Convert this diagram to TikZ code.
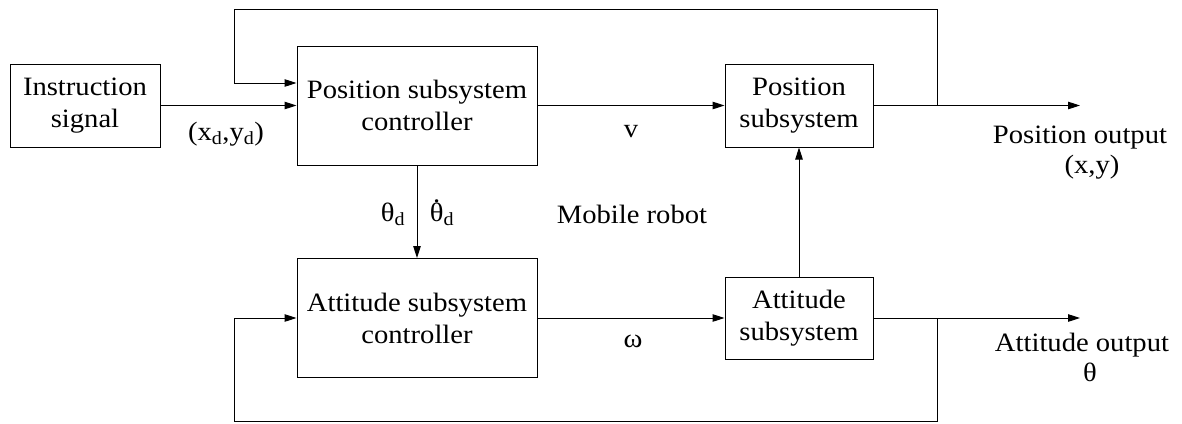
\documentclass[tikz,border=0pt]{standalone}
\usepackage{fontspec}
\setmainfont{Liberation Serif}[FakeStretch=1.08]
\usetikzlibrary{arrows.meta}

% theta with a dot above (time derivative)
\newcommand\thetadot{\ooalign{θ\cr\hidewidth\raisebox{0.7em}{.}\hidewidth\cr}}

\tikzset{
  txt/.style={font=\fontsize{26.5}{32}\selectfont, align=center, inner sep=0pt},
  block/.style={txt, draw, line width=1pt},
  lbl/.style={txt},
  arr/.style={line width=1pt, -{Triangle[length=12pt,width=7.5pt]}},
  wire/.style={line width=1pt},
}

\begin{document}
\begin{tikzpicture}[x=1pt,y=-1pt]
  \useasboundingbox (0,0) rectangle (1182,423);

  % blocks
  \node[block, minimum width=150pt, minimum height=83pt]  (ins) at (85,105.5)  {Instruction\\signal};
  \node[block, minimum width=240pt, minimum height=119pt] (psc) at (417,105.5) {Position subsystem\\controller};
  \node[block, minimum width=148pt, minimum height=83pt]  (ps)  at (799,105.5) {Position\\subsystem};
  \node[block, minimum width=240pt, minimum height=119pt] (acs) at (417,318)   {Attitude subsystem\\controller};
  \node[block, minimum width=148pt, minimum height=82pt]  (as)  at (799,318)   {Attitude\\subsystem};

  % branch points, outputs and feedback corners
  \coordinate (tapP) at (937,105.5);
  \coordinate (outP) at (1080,105.5);
  \coordinate (fbTR) at (937,9);
  \coordinate (fbTL) at (234,9);
  \coordinate (fbPin) at (234,83);
  \coordinate (tapA) at (937,318);
  \coordinate (outA) at (1080,318);
  \coordinate (fbBR) at (937,421);
  \coordinate (fbBL) at (234,421);
  \coordinate (fbAin) at (234,318);

  % signal flow
  \draw[arr] (ins) -- (psc);
  \draw[arr] (psc) -- (ps);
  \draw[wire] (ps) -- (tapP);
  \draw[arr] (tapP) -- (outP);
  \draw[arr] (tapP) -- (fbTR) -- (fbTL) -- (fbPin) -- (psc.west |- fbPin);
  \draw[arr] (psc) -- (acs);
  \draw[arr] (acs) -- (as);
  \draw[arr] (as) -- (ps);
  \draw[wire] (as) -- (tapA);
  \draw[arr] (tapA) -- (outA);
  \draw[arr] (tapA) -- (fbBR) -- (fbBL) -- (fbAin) -- (acs.west);

  % labels
  \node[lbl] (lxy)  at (226,134)   {(x\textsubscript{d},y\textsubscript{d})};
  \node[lbl] (lv)   at (631,131.5) {v};
  \node[lbl] (lth)  at (393,214.5) {θ\textsubscript{d}};
  \node[lbl] (lthd) at (442,214.5) {\thetadot\textsubscript{d}};
  \node[lbl] (lmob) at (632,214.5) {Mobile robot};
  \node[lbl] (lw)   at (633,341.5) {ω};
  \node[lbl, font=\fontsize{26.5}{30}\selectfont] (lpo) at (1080,153) {Position output\\\hspace*{0.9em}(x,y)};
  \node[lbl, font=\fontsize{26.5}{30}\selectfont] (lao) at (1082,357.5) {Attitude output\\\hspace*{0.6em}θ};
\end{tikzpicture}
\end{document}
